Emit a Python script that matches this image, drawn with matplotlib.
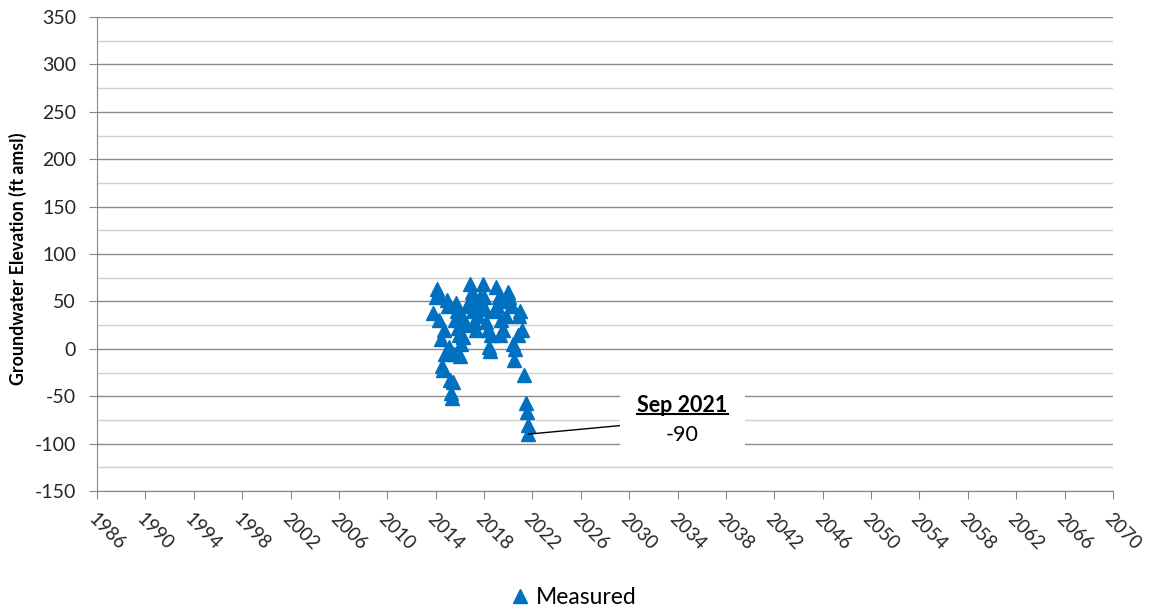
import matplotlib
matplotlib.use("Agg")
import matplotlib.pyplot as plt
from matplotlib.lines import Line2D
from matplotlib.patches import Rectangle

plt.rcParams['font.family'] = ['Lato', 'DejaVu Sans']
plt.rcParams['axes.unicode_minus'] = False

# Measured groundwater elevations (decimal year, ft amsl)
years = [2013.8, 2014.0, 2014.1, 2014.2, 2014.3, 2014.4, 2014.5, 2014.6, 2014.7, 2014.8,
         2014.9, 2015.0, 2015.1, 2015.2, 2015.3, 2015.35, 2015.4, 2015.5, 2015.6, 2015.7,
         2015.8, 2015.9, 2016.0, 2016.1, 2016.2, 2016.4, 2016.6, 2016.8, 2017.0, 2017.1,
         2017.3, 2017.5, 2017.7, 2017.9, 2018.0, 2018.2, 2018.4, 2018.5, 2018.6, 2018.8,
         2019.0, 2019.2, 2019.4, 2019.6, 2019.8, 2020.0, 2020.1, 2020.3, 2020.4, 2020.5,
         2020.6, 2020.8, 2020.9, 2021.0, 2021.1, 2021.3, 2021.5, 2021.55, 2021.6, 2021.67,
         2016.9, 2017.2, 2017.6, 2018.1, 2018.3, 2019.1, 2019.3, 2019.5, 2016.3, 2015.85]
elev = [38, 55, 63, 58, 30, 10, -18, -22, 20, -5,
        52, 45, 2, -33, -47, -52, -35, -5, 30, 48,
        40, 15, -8, 5, 35, 25, 45, 68, 60, 40,
        20, 35, 55, 68, 55, 28, 2, -2, 15, 40,
        65, 55, 30, 20, 35, 60, 55, 45, 5, -12,
        0, 15, 35, 40, 20, -28, -57, -67, -80, -90,
        50, 28, 45, 42, 20, 45, 15, 50, 12, 22]

xticks = list(range(1986, 2071, 4))
yticks = list(range(-150, 351, 50))
ann_label = "Sep 2021"
ann_value = "-90"
ann_x, ann_y = 2021.67, -90

fig = plt.figure(figsize=(11.52, 6.10), dpi=100)
ax = fig.add_axes([97/1152, 1 - 491/610, (1113-97)/1152, (491-17)/610])

ax.set_xlim(1986, 2070)
ax.set_ylim(-150, 350)
ax.set_yticks(yticks)
ax.set_yticks(list(range(-125, 350, 50)), minor=True)
ax.set_xticks(xticks)
ax.set_xticklabels([str(t) for t in xticks], rotation=-45, ha='left', va='top',
                   rotation_mode='anchor', fontsize=13.5, color='#262626')
ax.tick_params(axis='y', labelsize=14, labelcolor='#262626', length=6, color='#888888', pad=9)
ax.tick_params(axis='y', which='minor', length=0)
ax.tick_params(axis='x', length=6, color='#888888', pad=8)
ax.grid(axis='y', which='major', color='#8c8c8c', linewidth=1.0)
ax.grid(axis='y', which='minor', color='#d0d0d0', linewidth=1.0)
ax.set_axisbelow(True)
for s in ['top', 'right']:
    ax.spines[s].set_visible(False)
ax.spines['left'].set_color('#888888')
ax.spines['bottom'].set_color('#888888')

ax.set_ylabel('Groundwater Elevation (ft amsl)', fontsize=12.8, fontweight='bold')
ax.yaxis.set_label_coords(-0.069, 0.49)

ax.plot(years, elev, linestyle='none', marker='^', markersize=10.5, color='#0070C0',
        markeredgecolor='#0070C0', label='Measured', zorder=3, clip_on=False)

# Connector line and white label box
ax.annotate('', xy=(ann_x, ann_y), xytext=(2029.25, -81), textcoords='data',
            arrowprops=dict(arrowstyle='-', color='black', lw=1, shrinkA=0, shrinkB=0),
            zorder=3.5)
ax.add_patch(Rectangle((0.5148, 0.076), 0.123, 0.141, transform=ax.transAxes,
                       facecolor='white', edgecolor='none', zorder=4))
t1 = ax.text(2034.4, -60, ann_label, ha='center', va='center', fontsize=15.5,
             fontweight='bold', color='black', zorder=5)
t2 = ax.text(2034.4, -90.5, ann_value, ha='center', va='center', fontsize=15.5,
             color='black', zorder=5)

fig.legend(loc='lower center', bbox_to_anchor=(0.497, -0.03), frameon=False, fontsize=16.5,
           handletextpad=0.2, handlelength=1.0, markerscale=1.0)

fig.canvas.draw()
bb = t1.get_window_extent(fig.canvas.get_renderer())
inv = fig.transFigure.inverted()
(x0, y0), (x1, y1) = inv.transform([(bb.x0, bb.y0 + 2), (bb.x1, bb.y0 + 2)])
fig.add_artist(Line2D([x0, x1], [y0, y1], color='black', lw=1.5, zorder=6))

fig.savefig('out.png', dpi=100)
